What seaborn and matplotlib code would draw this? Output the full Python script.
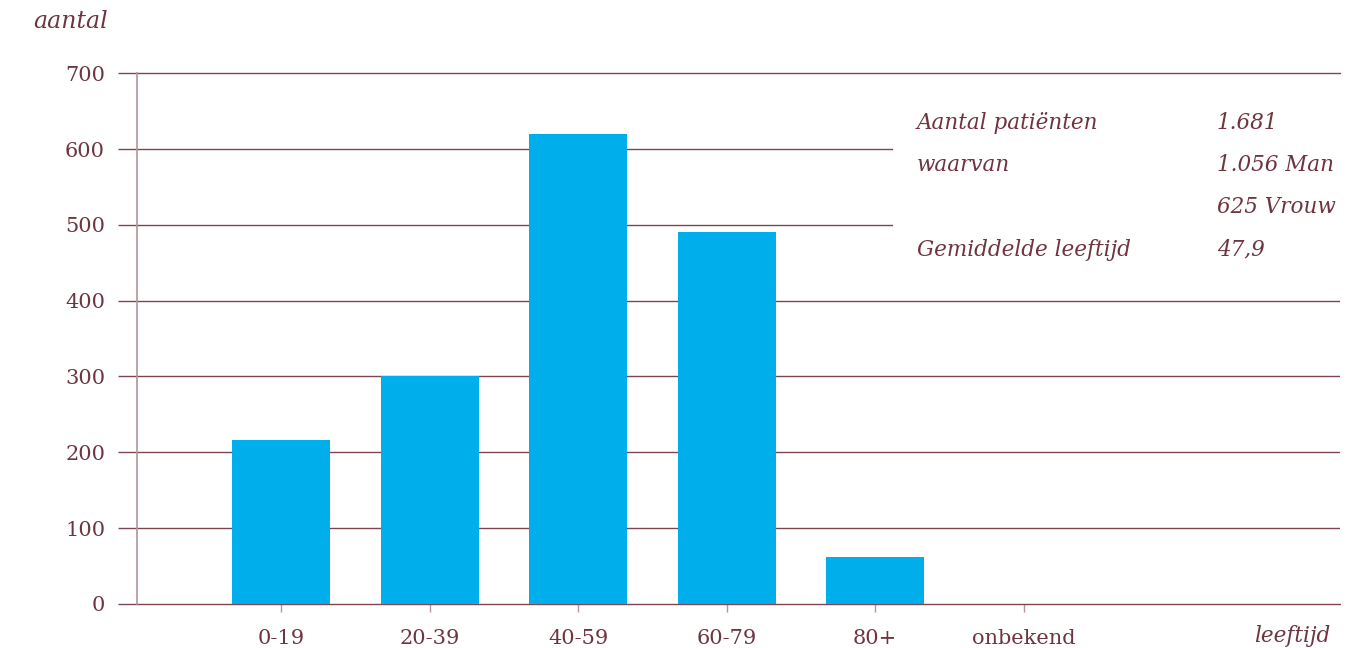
import matplotlib
matplotlib.use('Agg')
import matplotlib.pyplot as plt
import seaborn as sns
import pandas as pd
from matplotlib.patches import Rectangle

# data
leeftijd = ['0-19', '20-39', '40-59', '60-79', '80+', 'onbekend']
aantal = [216, 300, 620, 491, 62, 0]
yticks = [0, 100, 200, 300, 400, 500, 600, 700]

info_labels = ['Aantal patiënten', 'waarvan', '', 'Gemiddelde leeftijd']
info_values = ['1.681', '1.056 Man', '625 Vrouw', '47,9']

# colours
bar_color = '#00aeec'
text_color = '#6e3540'
grid_color = '#7e4450'
spine_color = '#b4959b'

sns.set_style('white')
plt.rcParams['font.family'] = ['DejaVu Serif']

df = pd.DataFrame({'leeftijd': leeftijd, 'aantal': aantal})

fig = plt.figure(figsize=(13.57, 6.48), dpi=100)
ax = fig.add_axes([0.101, 0.068, 0.8865, 0.819])

sns.barplot(data=df, x='leeftijd', y='aantal', color=bar_color, width=0.66,
            saturation=1, linewidth=0, edgecolor='none', ax=ax, zorder=3)

ax.set_xlim(-0.97, 7.13)
ax.set_ylim(0, 700)
ax.set_yticks(yticks)
ax.set_xlabel('')
ax.set_ylabel('')

# horizontal gridlines (the 0 and 700 lines sit on the axes edge)
for y in yticks:
    ax.axhline(y, color=grid_color, lw=1, zorder=1,
               clip_on=(y not in (0, 700)))

# white box behind the info text
ax.add_patch(Rectangle((4.12, 420), 3.1, 250, facecolor='white',
                       edgecolor='none', zorder=2))

for s in ['top', 'right', 'bottom']:
    ax.spines[s].set_visible(False)
ax.spines['left'].set_color(spine_color)
ax.spines['left'].set_linewidth(1.2)
ax.spines['left'].set_zorder(4)

ax.tick_params(axis='y', length=14, width=1, color=grid_color, pad=9,
               labelsize=15, labelcolor=text_color, left=True)
ax.tick_params(axis='x', length=6, width=1, color=spine_color, pad=12,
               labelsize=15, labelcolor=text_color, bottom=True)
ax.set_xticks([-0.97], minor=True)
ax.tick_params(axis='x', which='minor', length=6, width=1.2, color=spine_color)

# info block
rows_y = [634, 579, 523, 467]
for lab, val, yy in zip(info_labels, info_values, rows_y):
    ax.text(4.28, yy, lab, fontsize=15.5, style='italic', color=text_color,
            va='center', zorder=5)
    ax.text(6.30, yy, val, fontsize=15.5, style='italic', color=text_color,
            va='center', zorder=5)

fig.text(0.052, 1 - 22 / 648, 'aantal', fontsize=17, style='italic',
         color=text_color, ha='center', va='center')
fig.text(0.952, 1 - 636 / 648, 'leeftijd', fontsize=15.5, style='italic',
         color=text_color, ha='center', va='center')

fig.savefig('out.png', dpi=100)
